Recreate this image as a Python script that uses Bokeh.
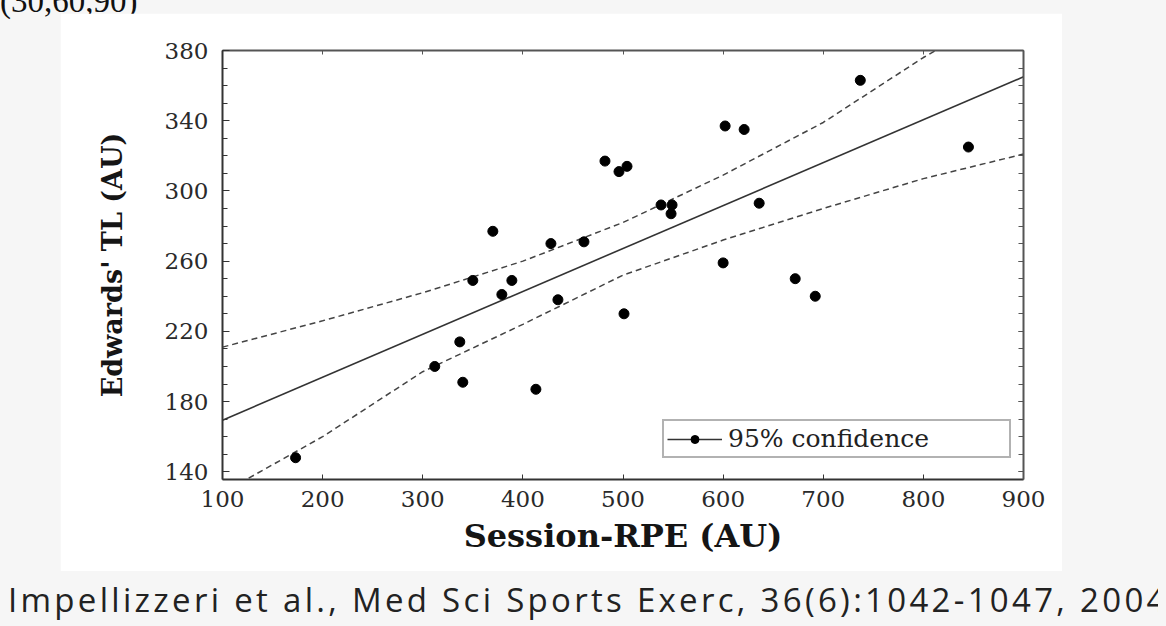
from bokeh.plotting import figure
from bokeh.layouts import column
from bokeh.models import (Range1d, LinearAxis, FixedTicker, Legend, LegendItem, Div)
from bokeh.embed import file_html
from bokeh.resources import INLINE

# ---- data ----
session_rpe = [173, 312, 337, 340, 413, 350, 370, 379, 389, 428, 435, 461, 482, 496,
               504, 501, 538, 549, 548, 602, 621, 600, 636, 672, 692, 737, 845]
edwards_tl = [148, 200, 214, 191, 187, 249, 277, 241, 249, 270, 238, 271, 317, 311,
              314, 230, 292, 292, 287, 337, 335, 259, 293, 250, 240, 363, 325]

fit_x = [100, 900]
fit_y = [169.4, 365.0]

band_x = [100, 200, 300, 400, 500, 600, 700, 800, 900]
band_upper = [211, 226, 242, 260, 282, 309, 339, 376, 409]
band_lower = [128, 160, 197, 224, 252, 272, 290, 307, 321]

x_ticks = [100, 200, 300, 400, 500, 600, 700, 800, 900]
y_ticks = [140, 180, 220, 260, 300, 340, 380]
y_minor = [140, 150, 160, 170, 180, 190, 200, 210, 220, 230, 240, 250, 260, 270,
           280, 290, 300, 310, 320, 330, 340, 350, 360, 370, 380]

caption = "Impellizzeri et al., Med Sci Sports Exerc, 36(6):1042-1047, 2004"
top_text = "(30,60,90)"
legend_label = "95% confidence"
x_title = "Session-RPE (AU)"
y_title = "Edwards' TL (AU)"

# ---- chart (the white picture box) ----
p = figure(width=1002, height=558, x_range=Range1d(100, 900), y_range=Range1d(135.6, 380),
           output_backend="svg", toolbar_location=None,
           min_border_left=162, min_border_right=39, min_border_top=37, min_border_bottom=92,
           margin=(0, 0, 0, 60))
p.border_fill_color = "white"
p.background_fill_color = "white"
p.outline_line_color = None
p.grid.visible = False

serif = "DejaVu Serif"
axis_col = "#333333"

xa = p.xaxis[0]
xa.ticker = FixedTicker(ticks=x_ticks)
ya = p.yaxis[0]
ya.ticker = FixedTicker(ticks=y_ticks, minor_ticks=y_minor)

for ax in (xa, ya):
    ax.axis_line_color = axis_col
    ax.axis_line_width = 2
    ax.major_tick_line_color = axis_col
    ax.minor_tick_line_color = axis_col
    ax.major_tick_out = 0
    ax.minor_tick_out = 0
    ax.major_label_text_font = serif
    ax.major_label_text_font_size = "23px"
    ax.major_label_text_color = "#2a2a2a"
    ax.axis_label_text_font = serif
    ax.axis_label_text_font_style = "bold"
    ax.axis_label_text_color = "#151515"

xa.major_tick_in = 5
xa.minor_tick_in = 0
xa.major_label_standoff = 11
xa.axis_label = x_title
xa.axis_label_text_font_size = "32px"
xa.axis_label_standoff = 7

ya.major_tick_in = 7
ya.minor_tick_in = 5
ya.major_label_standoff = 14
ya.axis_label = y_title
ya.axis_label_text_font_size = "27px"
ya.axis_label_standoff = 34

top_ax = LinearAxis(ticker=FixedTicker(ticks=x_ticks), major_label_text_color=None,
                    major_label_text_font_size="8px",
                    axis_line_color="#555555", axis_line_width=2,
                    major_tick_in=4, major_tick_out=0, minor_tick_in=0, minor_tick_out=0,
                    major_tick_line_color="#555555")
p.add_layout(top_ax, "above")
right_ax = LinearAxis(ticker=FixedTicker(ticks=y_ticks, minor_ticks=y_minor),
                      major_label_text_color=None, major_label_text_font_size="8px",
                      axis_line_color="#555555", axis_line_width=2,
                      major_tick_in=5, major_tick_out=0, minor_tick_in=5, minor_tick_out=0,
                      major_tick_line_color="#555555", minor_tick_line_color="#555555")
p.add_layout(right_ax, "right")

# ---- marks ----
p.line(band_x, band_upper, line_color="#444444", line_width=1.5, line_dash="6 4")
p.line(band_x, band_lower, line_color="#444444", line_width=1.5, line_dash="6 4")
fit_r = p.line(fit_x, fit_y, line_color="#333333", line_width=1.6)
pts_r = p.scatter(session_rpe, edwards_tl, size=10, fill_color="black", line_color="black")

legend = Legend(items=[LegendItem(label=legend_label, renderers=[fit_r, pts_r])],
                location=(440, 21), margin=0, padding=3, spacing=0,
                glyph_width=55, glyph_height=20, label_standoff=6, label_width=278,
                label_text_font=serif, label_text_font_size="25px",
                label_text_color="#222222",
                border_line_color="#666666", border_line_width=2,
                background_fill_color="white", background_fill_alpha=1.0)
p.add_layout(legend)

# ---- texts around the picture ----
top_div = Div(
    text=('<div style="font-family:\'Liberation Serif\'; font-size:33px; line-height:33px; '
          'margin-top:-20px; color:#111111; white-space:nowrap;">' + top_text + '</div>'),
    width=1166, height=13, margin=0)
cap_div = Div(
    text=('<div style="font-family:\'Open Sans\'; font-size:33px; letter-spacing:3.3px; '
          'line-height:45px; padding-top:6px; padding-left:8px; color:#222222; '
          'white-space:nowrap; overflow:hidden; width:1158px;">' + caption + '</div>'),
    width=1166, height=55, margin=0)

root = column(top_div, p, cap_div, spacing=0, margin=0,
              styles={"background-color": "#f6f6f6", "overflow": "hidden"})

open("out.html", "w").write(file_html(root, INLINE))
